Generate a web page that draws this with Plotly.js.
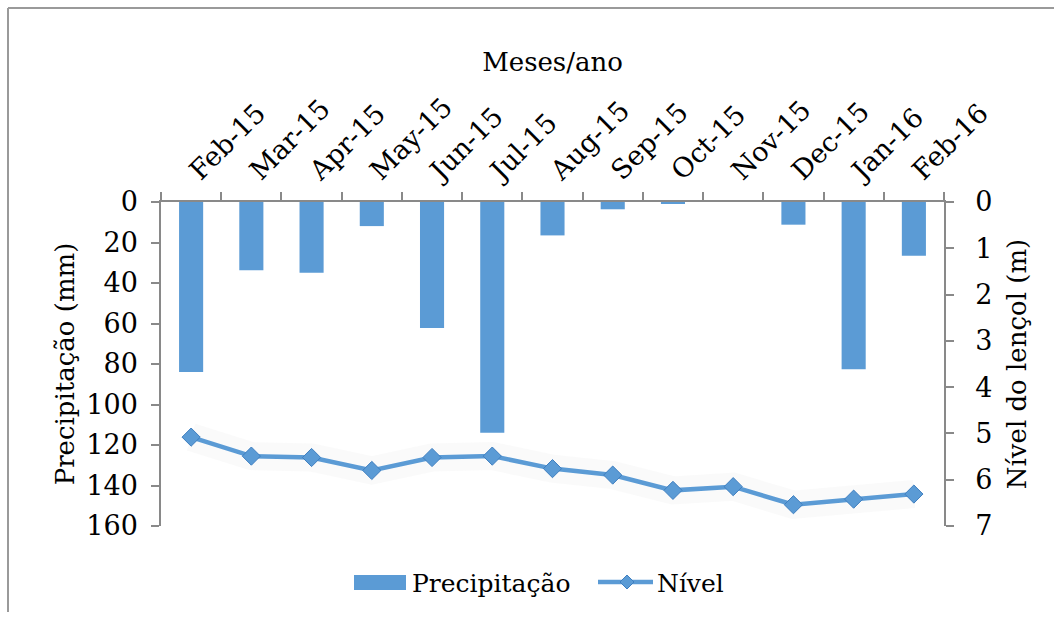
<!DOCTYPE html>
<html>
<head>
<meta charset="utf-8">
<script src="https://cdn.plot.ly/plotly-3.0.1.min.js"></script>
<style>
html,body{margin:0;padding:0;background:#fff;}
#chart{width:1054px;height:619px;}
</style>
</head>
<body>
<div id="chart"></div>
<script>
const months = ["Feb-15","Mar-15","Apr-15","May-15","Jun-15","Jul-15","Aug-15","Sep-15","Oct-15","Nov-15","Dec-15","Jan-16","Feb-16"];
const precipitacao = [84.0, 33.7, 34.9, 11.9, 62.2, 113.9, 16.5, 3.6, 1.0, 0, 11.2, 82.6, 26.5];
const nivel = [5.08, 5.49, 5.52, 5.80, 5.52, 5.49, 5.76, 5.90, 6.23, 6.15, 6.54, 6.42, 6.31];
const precipTicks = [0,20,40,60,80,100,120,140,160];
const nivelTicks = [0,1,2,3,4,5,6,7];

const W = 1054, H = 619;
const L = 161, R = 944, T = 202, B = 526;
const px = x => (x - L) / (R - L);
const py = y => (B - y) / (B - T);

const blue = '#5B9BD5';
const axisGray = '#898989';
const FONT = 'DejaVu Serif, serif';

const traces = [
  {
    type: 'bar', name: 'Precipitação', x: months, y: precipitacao,
    xaxis: 'x', yaxis: 'y', width: 0.4,
    marker: {color: blue, line: {width: 0}},
    showlegend: false, hoverinfo: 'x+y'
  },
  {
    type: 'scatter', mode: 'lines', x: months, y: nivel, xaxis: 'x', yaxis: 'y2',
    line: {color: 'rgba(170,170,170,0.06)', width: 28}, showlegend: false, hoverinfo: 'skip'
  },
  {
    type: 'scatter', mode: 'lines+markers', name: 'Nível', x: months, y: nivel,
    xaxis: 'x', yaxis: 'y2',
    line: {color: blue, width: 4.5},
    marker: {symbol: 'diamond', size: 14, color: blue, line: {color: '#3f7fc0', width: 1}},
    showlegend: false
  }
];

const layout = {
  width: W, height: H,
  margin: {l: L, r: W - R, t: T, b: H - B, pad: 0},
  paper_bgcolor: '#fff', plot_bgcolor: '#fff',
  font: {family: FONT, color: '#000', size: 26},
  showlegend: false,
  xaxis: {
    type: 'category', side: 'top', range: [-0.5, 12.5],
    tickangle: -45, tickson: 'boundaries',
    ticks: 'outside', ticklen: 8, tickcolor: axisGray, tickwidth: 1.5,
    ticklabelstandoff: 4,
    showline: true, linecolor: axisGray, linewidth: 1.5,
    showgrid: false, zeroline: false,
    tickfont: {family: FONT, size: 27, color: '#000'},
    title: {text: 'Meses/ano', font: {family: FONT, size: 26, color: '#000'}, standoff: 12},
    automargin: false
  },
  yaxis: {
    range: [160, 0], tickvals: precipTicks, ticktext: precipTicks.map(String),
    ticks: 'outside', ticklen: 8, tickcolor: axisGray, tickwidth: 1.5,
    ticklabelstandoff: 8,
    showline: true, linecolor: axisGray, linewidth: 1.5,
    showgrid: false, zeroline: false,
    tickfont: {family: FONT, size: 27, color: '#000'},
    title: {text: 'Precipitação (mm)', font: {family: FONT, size: 26, color: '#000'}, standoff: 4},
    automargin: false
  },
  yaxis2: {
    overlaying: 'y', side: 'right', range: [7, 0],
    tickvals: nivelTicks, ticktext: nivelTicks.map(String),
    ticks: 'outside', ticklen: 8, tickcolor: axisGray, tickwidth: 1.5,
    ticklabelstandoff: 16,
    showline: true, linecolor: axisGray, linewidth: 1.5,
    showgrid: false, zeroline: false,
    tickfont: {family: FONT, size: 27, color: '#000'},
    title: {text: 'Nível do lençol (m)', font: {family: FONT, size: 26, color: '#000'}, standoff: 16},
    automargin: false
  },
  shapes: [
    {type: 'line', xref: 'paper', yref: 'paper', x0: px(8), x1: px(1054), y0: py(8), y1: py(8), line: {color: '#9a9a9a', width: 2}},
    {type: 'line', xref: 'paper', yref: 'paper', x0: px(8), x1: px(8), y0: py(8), y1: py(612), line: {color: '#9a9a9a', width: 2}},
    {type: 'rect', xref: 'paper', yref: 'paper', x0: px(354), x1: px(406), y0: py(590), y1: py(575), fillcolor: blue, line: {width: 0}},
    {type: 'line', xref: 'paper', yref: 'paper', x0: px(598), x1: px(653), y0: py(582), y1: py(582), line: {color: blue, width: 4.5}},
    {type: 'path', xref: 'paper', yref: 'paper',
     path: `M ${px(627-7)} ${py(582)} L ${px(627)} ${py(582-7)} L ${px(627+7)} ${py(582)} L ${px(627)} ${py(582+7)} Z`,
     fillcolor: blue, line: {color: '#3f7fc0', width: 1}}
  ],
  annotations: [
    {xref: 'paper', yref: 'paper', x: px(410), y: py(583), xanchor: 'left', yanchor: 'middle', text: 'Precipitação', showarrow: false, font: {family: FONT, size: 25, color: '#000'}},
    {xref: 'paper', yref: 'paper', x: px(655), y: py(583), xanchor: 'left', yanchor: 'middle', text: 'Nível', showarrow: false, font: {family: FONT, size: 25, color: '#000'}}
  ]
};

Plotly.newPlot('chart', traces, layout, {displayModeBar: false, responsive: false});
</script>
</body>
</html>
